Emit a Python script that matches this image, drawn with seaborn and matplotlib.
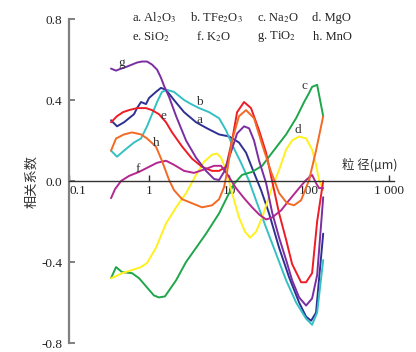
import matplotlib
matplotlib.use("Agg")
import matplotlib.pyplot as plt
import seaborn as sns
import pandas as pd
from matplotlib.ticker import FixedLocator, FixedFormatter, NullLocator

sns.set_theme(style="white")
plt.rcParams['font.family'] = ['Liberation Serif', 'Noto Sans CJK SC', 'DejaVu Sans']
plt.rcParams['mathtext.fontset'] = 'stix'

# ---------------- data (grain size in um, correlation coefficient) ----------------
a_x = [0.335, 0.398, 0.487, 0.649, 0.708, 0.794, 0.917, 1.0, 1.22, 1.41, 1.63, 2.05, 2.74, 3.87,
       5.31, 7.50, 10.0, 13.3, 16.3, 20.5, 25.1, 31.6, 42.2, 56.2, 75.0, 91.7, 106, 122, 150]
a_y = [0.30, 0.27, 0.29, 0.33, 0.36, 0.39, 0.38, 0.41, 0.44, 0.46, 0.45, 0.40, 0.34, 0.29,
       0.26, 0.23, 0.22, 0.19, 0.14, 0.04, -0.045, -0.16, -0.33, -0.475, -0.60, -0.67, -0.69, -0.65, -0.26]

b_x = [0.335, 0.398, 0.487, 0.649, 0.794, 0.944, 1.09, 1.26, 1.45, 1.68, 2.05, 2.74, 3.35, 4.22,
       5.62, 7.50, 9.17, 10.9, 14.1, 17.8, 22.4, 29.0, 38.7, 51.6, 68.8, 91.7, 109, 126, 150]
b_y = [0.15, 0.12, 0.15, 0.19, 0.21, 0.27, 0.33, 0.39, 0.44, 0.45, 0.44, 0.40, 0.38, 0.36,
       0.34, 0.31, 0.25, 0.18, 0.09, 0.0, -0.11, -0.23, -0.36, -0.49, -0.60, -0.68, -0.71, -0.65, -0.39]

c_x = [0.335, 0.387, 0.460, 0.613, 0.750, 0.917, 1.15, 1.33, 1.58, 2.18, 2.90, 3.87, 5.16, 7.50,
       9.44, 11.5, 14.5, 19.4, 25.9, 34.5, 51.6, 68.8, 86.6, 100, 109, 126, 150]
c_y = [-0.48, -0.425, -0.45, -0.455, -0.48, -0.52, -0.565, -0.575, -0.57, -0.49, -0.40, -0.33, -0.26, -0.16,
       -0.08, -0.015, 0.03, 0.045, 0.075, 0.14, 0.23, 0.31, 0.39, 0.435, 0.465, 0.475, 0.32]

d_x = [0.335, 0.387, 0.460, 0.613, 0.794, 0.944, 1.22, 1.63, 2.18, 2.90, 3.87, 4.87, 6.13, 7.08,
       7.94, 9.17, 10.9, 13.3, 15.8, 18.3, 21.8, 25.9, 33.5, 42.2, 51.6, 61.3, 75.0, 91.7, 109, 122, 133, 150]
d_y = [-0.48, -0.47, -0.455, -0.44, -0.425, -0.405, -0.33, -0.21, -0.13, -0.06, 0.03, 0.095, 0.13, 0.135,
       0.115, 0.055, -0.06, -0.18, -0.25, -0.28, -0.25, -0.18, -0.045, 0.055, 0.155, 0.20, 0.22, 0.21, 0.155, 0.08, 0.005, -0.045]

e_x = [0.335, 0.398, 0.473, 0.562, 0.708, 0.917, 1.09, 1.33, 1.63, 1.94, 2.59, 3.45, 4.60, 6.13,
       7.50, 9.17, 10.9, 12.6, 15.4, 18.8, 23.7, 29.0, 34.5, 42.2, 51.6, 61.3, 79.4, 91.7, 109, 126, 150]
e_y = [0.29, 0.32, 0.34, 0.35, 0.36, 0.36, 0.35, 0.33, 0.29, 0.24, 0.17, 0.11, 0.07, 0.05,
       0.05, 0.07, 0.20, 0.34, 0.39, 0.36, 0.25, 0.14, 0.0, -0.16, -0.29, -0.41, -0.50, -0.50, -0.455, -0.20, 0.0]

f_x = [0.335, 0.376, 0.447, 0.562, 0.750, 0.944, 1.26, 1.63, 2.05, 2.74, 3.65, 5.16, 6.49, 7.94,
       9.44, 12.2, 15.4, 19.4, 23.7, 29.0, 34.5, 44.7, 56.2, 75.0, 91.7, 109, 122, 133, 150]
f_y = [-0.085, -0.04, 0.0, 0.025, 0.045, 0.065, 0.09, 0.10, 0.08, 0.05, 0.04, 0.06, 0.075, 0.075,
       0.035, -0.035, -0.085, -0.13, -0.165, -0.19, -0.18, -0.145, -0.095, -0.035, 0.005, 0.03, -0.01, -0.035, -0.035]

g_x = [0.335, 0.387, 0.447, 0.531, 0.708, 0.818, 0.944, 1.09, 1.26, 1.41, 1.54, 1.78, 2.18, 2.90,
       3.87, 5.16, 6.49, 7.50, 8.66, 10.6, 12.6, 15.4, 17.8, 20.5, 23.7, 29.0, 34.5, 42.2, 51.6,
       61.3, 75.0, 91.7, 109, 126, 150]
g_y = [0.555, 0.545, 0.555, 0.565, 0.585, 0.59, 0.59, 0.575, 0.55, 0.51, 0.47, 0.415, 0.32, 0.20,
       0.115, 0.05, 0.01, 0.005, 0.045, 0.145, 0.235, 0.27, 0.26, 0.20, 0.10, -0.01, -0.155, -0.28, -0.39,
       -0.49, -0.575, -0.615, -0.58, -0.465, -0.08]

h_x = [0.335, 0.387, 0.487, 0.613, 0.794, 0.944, 1.22, 1.45, 1.78, 2.05, 2.59, 3.45, 4.60, 6.13,
       7.50, 8.66, 9.44, 10.9, 13.3, 16.3, 20.5, 25.9, 33.5, 42.2, 53.1, 64.9, 79.4, 100, 122, 150]
h_y = [0.15, 0.21, 0.23, 0.24, 0.23, 0.21, 0.17, 0.10, 0.005, -0.045, -0.09, -0.11, -0.13, -0.12,
       -0.09, -0.03, 0.045, 0.20, 0.32, 0.35, 0.31, 0.18, 0.045, -0.06, -0.11, -0.12, -0.095, 0.005, 0.15, 0.32]

series_keys = ['a', 'b', 'c', 'd', 'e', 'f', 'g', 'h']
series_x = [a_x, b_x, c_x, d_x, e_x, f_x, g_x, h_x]
series_y = [a_y, b_y, c_y, d_y, e_y, f_y, g_y, h_y]
series_colors = ['#2e3192', '#35c0c4', '#1fa64a', '#fff01e', '#ee1c25', '#b4278f', '#7a2ea2', '#f36a24']
legend_texts = [r'a. Al$_2$O$_3$', r'b. TFe$_2$O$_3$', r'c. Na$_2$O', r'd. MgO',
                r'e. SiO$_2$', r'f. K$_2$O', r'g. TiO$_2$', r'h. MnO']
# curve label anchor positions (x in um, y)
label_pos = {'a': (4.22, 0.30), 'b': (4.22, 0.39), 'c': (86.6, 0.47), 'd': (71.9, 0.25),
             'e': (1.50, 0.32), 'f': (0.73, 0.06), 'g': (0.46, 0.585), 'h': (1.22, 0.19)}

xticks = [0.1, 1, 10, 100, 1000]
xticklabels = ['0.1', '1', '10', '100', '1 000']
yticks = [-0.8, -0.4, 0.0, 0.4, 0.8]
yticklabels = ['-0.8', '-0.4', '0.0', '0.4', '0.8']

# ---------------- figure ----------------
W, H = 416, 352
fig = plt.figure(figsize=(W / 100, H / 100), dpi=100)
ax_left, ax_right, ax_top, ax_bottom = 69, 394, 19, 343
ax = fig.add_axes([ax_left / W, 1 - ax_bottom / H, (ax_right - ax_left) / W, (ax_bottom - ax_top) / H])
ax.set_facecolor('white')

for key, xs, ys, col in zip(series_keys, series_x, series_y, series_colors):
    df = pd.DataFrame({'x': xs, 'y': ys})
    sns.lineplot(data=df, x='x', y='y', color=col, linewidth=1.4, ax=ax,
                 estimator=None, sort=False, legend=False)

ax.set_xscale('log')
ax.set_xlim(0.1, 1150)
ax.set_ylim(-0.8, 0.8)

ax.spines['top'].set_visible(False)
ax.spines['right'].set_visible(False)
ax.spines['left'].set_color('#808080')
ax.spines['left'].set_linewidth(1.6)
ax.spines['bottom'].set_position(('data', 0))
ax.spines['bottom'].set_color('#333333')
ax.spines['bottom'].set_linewidth(1.0)

ax.xaxis.set_major_locator(FixedLocator(xticks))
ax.xaxis.set_major_formatter(FixedFormatter(xticklabels))
ax.xaxis.set_minor_locator(NullLocator())
ax.yaxis.set_major_locator(FixedLocator(yticks))
ax.yaxis.set_major_formatter(FixedFormatter(yticklabels))

ax.tick_params(axis='x', direction='in', length=4, width=1.0, color='#333333',
               labelsize=9.5, labelcolor='#222222', pad=3, bottom=True)
ax.tick_params(axis='y', direction='in', length=4, width=1.4, color='#808080',
               labelsize=9.5, labelcolor='#222222', pad=5, left=True)
fig.canvas.draw()
ax.get_xticklabels()[0].set_horizontalalignment('left')

ax.set_xlabel('')
ax.set_ylabel('相关系数', family=['Noto Sans CJK SC', 'DejaVu Sans'], fontsize=9.5, color='#333333')
ax.yaxis.set_label_coords((38 - ax_left) / (ax_right - ax_left), 0.5)

ax.text((370 - ax_left) / (ax_right - ax_left), (ax_bottom - 165) / (ax_bottom - ax_top),
        '粒 径(μm)', transform=ax.transAxes, ha='center', va='center', fontsize=9,
        family=['Noto Sans CJK SC', 'DejaVu Sans'], color='#333333')

for key, (lx, ly) in label_pos.items():
    ax.text(lx, ly, key, ha='center', va='center', fontsize=9.5, color='#333333')

leg_px = [(132, 18), (190, 18), (257, 18), (312, 18), (132, 37), (196, 37), (257, 37), (313, 37)]
for txt, (px, py) in zip(legend_texts, leg_px):
    fig.text(px / W, 1 - py / H, txt, ha='left', va='center', fontsize=9, color='#222222')

fig.savefig('out.png', dpi=100)
